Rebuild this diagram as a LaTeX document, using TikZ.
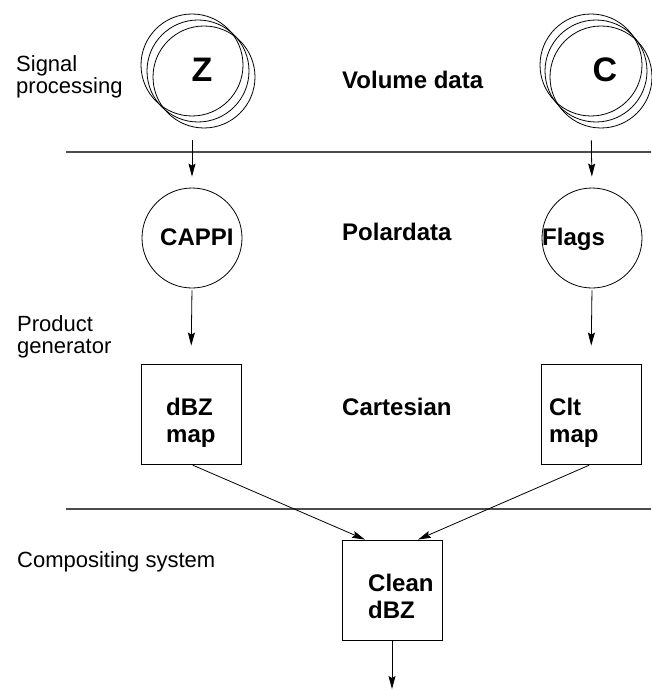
\documentclass[tikz,border=0pt]{standalone}
\usepackage{fontspec}
\setmainfont{Liberation Sans}
\usetikzlibrary{arrows.meta,positioning,calc}
\tikzset{
  stack/.style={circle,draw,line width=0.8pt,minimum size=102pt,inner sep=0pt},
  polar/.style={circle,draw,line width=0.8pt,minimum size=100pt,inner sep=0pt},
  mapbox/.style={rectangle,draw,line width=0.8pt,minimum size=100pt,inner sep=0pt},
  letter/.style={font=\fontsize{34}{34}\selectfont\bfseries,inner sep=0pt},
  boxtext/.style={font=\fontsize{24}{27}\selectfont\bfseries,align=left,inner sep=0pt,anchor=base west},
  stage/.style={font=\fontsize{24}{27}\selectfont\bfseries,inner sep=0pt,anchor=base west},
  system/.style={font=\fontsize{22}{22}\selectfont,align=left,inner sep=0pt,anchor=base west},
  flow/.style={-{Stealth[length=13pt,width=7pt,inset=2pt]},line width=0.8pt},
  divider/.style={line width=1.2pt,gray!60!black}
}

\begin{document}
\begin{tikzpicture}[x=1pt,y=-1pt]
  \useasboundingbox (0,0) rectangle (651,690);
  % volume data stacks
  \node[stack] (Zback) at (192,65) {};
  \node[stack] (Zmid) at (198,71) {};
  \node[stack] (Zfront) at (204,77) {};
  \node[letter] (Ztext) at (202,70) {Z};
  \node[stack] (Cback) at (591,65) {};
  \node[stack] (Cmid) at (596,71) {};
  \node[stack] (Cfront) at (601,77) {};
  \node[letter] (Ctext) at (605,70) {C};
  % polar data
  \node[polar] (cappi) at (192,238) {};
  \node[boxtext] (cappitext) at (160,245) {CAPPI};
  \node[polar] (flags) at (592,238) {};
  \node[boxtext] (flagstext) at (542,245) {Flags};
  % cartesian maps (base = last line)
  \node[mapbox] (dbz) at (191,414) {};
  \node[boxtext] (dbztext) at (166,442) {dBZ\\map};
  \node[mapbox] (clt) at (591,414) {};
  \node[boxtext] (clttext) at (549,442) {Clt\\map};
  % composite
  \node[mapbox] (clean) at (392,590) {};
  \node[boxtext] (cleantext) at (368,618) {Clean\\dBZ};
  \coordinate (out) at (392,689);
  % stage labels
  \node[stage] (volume) at (342,89) {Volume data};
  \node[stage] (polardata) at (342,240) {Polardata};
  \node[stage] (cartesian) at (342,415) {Cartesian};
  \node[system] (signal) at (16,94) {Signal\\processing};
  \node[system] (product) at (17,353) {Product\\generator};
  \node[system] (compositing) at (17,567) {Compositing system};
  % dividers
  \draw[divider] (66,152) -- (651,152);
  \draw[divider] (66,509) -- (651,509);
  % data flow
  \draw[flow, shorten <=24pt, shorten >=11pt] (Zback.south) -- (cappi.north);
  \draw[flow, shorten <=24pt, shorten >=11pt] (Cback.south) -- (flags.north);
  \draw[flow, shorten <=2pt, shorten >=18pt] (cappi.south) -- (dbz.north);
  \draw[flow, shorten <=2pt, shorten >=18pt] (flags.south) -- (clt.north);
  \draw[flow, shorten <=2pt] (dbz.south) -- ([xshift=-27pt]clean.north);
  \draw[flow, shorten <=2pt] (clt.south) -- ([xshift=26pt]clean.north);
  \draw[flow] (clean.south) -- (out);
\end{tikzpicture}
\end{document}
